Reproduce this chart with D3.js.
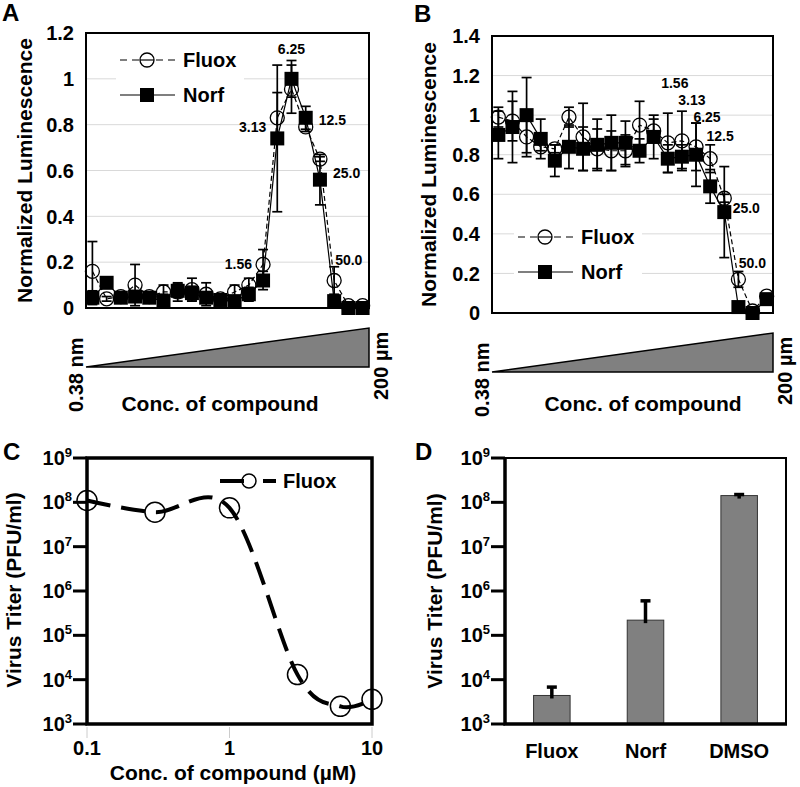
<!DOCTYPE html>
<html>
<head>
<meta charset="utf-8">
<script src="https://cdn.jsdelivr.net/npm/d3@7/dist/d3.min.js"></script>
<style>
  body { margin: 0; background: #fff; }
  svg { display: block; font-family: "Liberation Sans", Arial, sans-serif; font-weight: bold; }
</style>
</head>
<body>
<svg id="chart" width="800" height="787"></svg>
<script>
// Two-fold dilution series (µM), 0.38 nM .. 200 µM
const doses = [0.00038, 0.00076, 0.0015, 0.0031, 0.0061, 0.012, 0.024, 0.049, 0.098, 0.195,
               0.39, 0.78, 1.56, 3.13, 6.25, 12.5, 25, 50, 100, 200];

// Panel A
const fluoxA    = [0.16, 0.04, 0.05, 0.10, 0.05, 0.07, 0.07, 0.08, 0.06, 0.04, 0.07, 0.10, 0.19, 0.83, 0.955, 0.79, 0.65, 0.12, 0.01, 0.01];
const fluoxAErr = [0.13, 0.01, 0.01, 0.09, 0.01, 0.03, 0.04, 0.05, 0.05, 0.02, 0.03, 0.03, 0.065, 0.11, 0.105, 0.02, 0.01, 0.06, 0.005, 0.005];
const norfA     = [0.045, 0.11, 0.045, 0.05, 0.045, 0.03, 0.075, 0.065, 0.045, 0.035, 0.03, 0.06, 0.12, 0.74, 1.0, 0.83, 0.56, 0.03, 0.0, 0.0];
const norfAErr  = [0.03, 0.02, 0.02, 0.02, 0.02, 0.03, 0.03, 0.03, 0.02, 0.02, 0.02, 0.03, 0.04, 0.32, 0.08, 0.05, 0.11, 0.02, 0.0, 0.0];
const ticksA = [0, 0.2, 0.4, 0.6, 0.8, 1, 1.2];

// Panel B
const fluoxB    = [0.99, 0.97, 0.89, 0.84, 0.83, 0.99, 0.89, 0.83, 0.82, 0.82, 0.95, 0.92, 0.86, 0.87, 0.84, 0.78, 0.58, 0.17, 0.01, 0.085];
const fluoxBErr = [0.05, 0.10, 0.10, 0.02, 0.02, 0.05, 0.17, 0.10, 0.10, 0.08, 0.12, 0.06, 0.15, 0.15, 0.12, 0.07, 0.02, 0.04, 0.01, 0.01];
const norfB     = [0.90, 0.94, 1.0, 0.88, 0.77, 0.84, 0.83, 0.85, 0.86, 0.86, 0.82, 0.89, 0.78, 0.79, 0.80, 0.64, 0.51, 0.03, 0.0, 0.07];
const norfBErr  = [0.12, 0.18, 0.19, 0.10, 0.08, 0.11, 0.11, 0.13, 0.14, 0.11, 0.06, 0.11, 0.07, 0.06, 0.16, 0.085, 0.23, 0.02, 0.01, 0.01];
const ticksB = [0, 0.2, 0.4, 0.6, 0.8, 1, 1.2, 1.4];

// Concentration labels written next to the points (µM)
const labelDoses = [1.56, 3.13, 6.25, 12.5, 25, 50];
const labelText  = ["1.56", "3.13", "6.25", "12.5", "25.0", "50.0"];

// Panel C
const concC  = [0.1, 0.3, 1, 3, 6, 10];
const titerC = [1.1e8, 6.0e7, 7.5e7, 1.3e4, 2.5e3, 3.6e3];
const concTicksC = [0.1, 1, 10];

// Panel D
const drugsD    = ["Fluox", "Norf", "DMSO"];
const titerD    = [4.4e3, 2.2e5, 1.42e8];
const titerDErr = [2.4e3, 3.8e5, 0.08e8];

const titerTicks = [1e3, 1e4, 1e5, 1e6, 1e7, 1e8, 1e9];

const svg = d3.select("#chart");
const GRAY = "#808080";

function letter(x, y, t) {
    svg.append("text").attr("x", x).attr("y", y).attr("font-size", 24).text(t);
}

function vTitle(x, y, t, size) {
    svg.append("text")
        .attr("transform", `translate(${x},${y}) rotate(-90)`)
        .attr("text-anchor", "middle")
        .attr("font-size", size)
        .text(t);
}

/**
 * Dose-response panel (A and B)
 */
function dosePanel(p) {
    const g = svg.append("g");
    const x = d3.scalePoint().domain(doses).range([p.x0, p.x1]).padding(0.45);
    const y = d3.scaleLinear().domain([0, p.yMax]).range([p.y1, p.y0]);

    // gridlines
    g.selectAll("line.grid").data(p.ticks.filter(t => t > 0)).enter().append("line")
        .attr("x1", p.x0).attr("x2", p.x1)
        .attr("y1", d => y(d)).attr("y2", d => y(d))
        .attr("stroke", "#d9d9d9").attr("stroke-width", 1);

    // legend background
    g.append("rect").attr("x", p.legX - 4).attr("y", p.legY - 20)
        .attr("width", 128).attr("height", 72).attr("fill", "#fff");

    // tick labels
    g.selectAll("text.tick").data(p.ticks).enter().append("text")
        .attr("x", p.x0 - 12).attr("y", d => y(d)).attr("dy", "0.36em")
        .attr("text-anchor", "end").attr("font-size", 20)
        .text(d => String(+d.toFixed(1)));

    const series = [
        { v: p.fluox, e: p.fluoxErr, dash: "5,3" },
        { v: p.norf, e: p.norfErr, dash: null }
    ];

    series.forEach((s, k) => {
        const line = d3.line().x((d, i) => x(doses[i])).y(d => y(d));
        g.append("path").datum(s.v).attr("d", line)
            .attr("fill", "none").attr("stroke", "#000").attr("stroke-width", 1.2)
            .attr("stroke-dasharray", s.dash);

        const eb = g.append("g").attr("stroke", "#000").attr("stroke-width", 1.7);
        s.v.forEach((v, i) => {
            const cx = x(doses[i]);
            const top = y(v + s.e[i]), bot = y(Math.max(0, v - s.e[i]));
            eb.append("line").attr("x1", cx).attr("x2", cx).attr("y1", top).attr("y2", bot);
            eb.append("line").attr("x1", cx - 5).attr("x2", cx + 5).attr("y1", top).attr("y2", top);
            eb.append("line").attr("x1", cx - 5).attr("x2", cx + 5).attr("y1", bot).attr("y2", bot);
        });

        if (k === 0) {
            g.selectAll(null).data(s.v).enter().append("circle")
                .attr("cx", (d, i) => x(doses[i])).attr("cy", d => y(d)).attr("r", 7)
                .attr("fill", "none").attr("stroke", "#000").attr("stroke-width", 1.3);
        } else {
            g.selectAll(null).data(s.v).enter().append("rect")
                .attr("x", (d, i) => x(doses[i]) - 7).attr("y", d => y(d) - 7)
                .attr("width", 14).attr("height", 14).attr("fill", "#000");
        }
    });

    // concentration labels next to points
    labelDoses.forEach((c, j) => {
        const i = doses.indexOf(c);
        const o = p.labelOffsets[j];
        g.append("text")
            .attr("x", x(c) + o[0]).attr("y", y(p.norf[i]) + o[1]).attr("dy", "0.36em")
            .attr("text-anchor", o[2]).attr("font-size", 14)
            .text(labelText[j]);
    });

    // frame
    g.append("rect").attr("x", p.x0).attr("y", p.y0)
        .attr("width", p.x1 - p.x0).attr("height", p.y1 - p.y0)
        .attr("fill", "none").attr("stroke", "#000").attr("stroke-width", 2);

    // legend
    const lg = g.append("g");
    [["Fluox", "7,5", 0], ["Norf", null, 1]].forEach(([name, dash, k]) => {
        const ly = p.legY + k * 35;
        lg.append("line").attr("x1", p.legX).attr("x2", p.legX + 55)
            .attr("y1", ly).attr("y2", ly)
            .attr("stroke", "#000").attr("stroke-width", 1.2).attr("stroke-dasharray", dash);
        if (k === 0) {
            lg.append("circle").attr("cx", p.legX + 27).attr("cy", ly).attr("r", 7)
                .attr("fill", "#fff").attr("stroke", "#000").attr("stroke-width", 1.3);
            lg.append("line").attr("x1", p.legX + 20).attr("x2", p.legX + 34)
                .attr("y1", ly).attr("y2", ly).attr("stroke", "#000").attr("stroke-width", 1.2);
        } else {
            lg.append("rect").attr("x", p.legX + 20).attr("y", ly - 7)
                .attr("width", 14).attr("height", 14).attr("fill", "#000");
        }
        lg.append("text").attr("x", p.legX + 63).attr("y", ly).attr("dy", "0.36em")
            .attr("font-size", 20).text(name);
    });

    // concentration wedge
    g.append("path")
        .attr("d", `M${p.x0},${p.triB}L${p.x1},${p.triB}L${p.x1},${p.triT}Z`)
        .attr("fill", GRAY).attr("stroke", "#000").attr("stroke-width", 1.5);
    g.append("text")
        .attr("transform", `translate(${p.x0 - 3},${p.triB + 45}) rotate(-90)`)
        .attr("font-size", 20).text("0.38 nm");
    g.append("text")
        .attr("transform", `translate(${p.x1 + 19},${p.triB + 33}) rotate(-90)`)
        .attr("font-size", 20).text("200 µm");
    g.append("text").attr("x", p.titleX).attr("y", 411).attr("text-anchor", "middle")
        .attr("font-size", 21).text("Conc. of compound");

    vTitle(p.yTitleX, (p.y0 + p.y1) / 2, "Normalized Luminescence", 21);
}

dosePanel({
    x0: 86, x1: 369, y0: 33, y1: 308, yMax: 1.2, ticks: ticksA,
    fluox: fluoxA, fluoxErr: fluoxAErr, norf: norfA, norfErr: norfAErr,
    labelOffsets: [[-11, -17, "end"], [-11, -11, "end"], [0, -30, "middle"],
                   [13, 2, "start"], [13, -7, "start"], [1, -41, "start"]],
    legX: 120, legY: 60, triB: 367, triT: 328, titleX: 220, yTitleX: 32
});

dosePanel({
    x0: 492, x1: 773, y0: 36, y1: 313, yMax: 1.4, ticks: ticksB,
    fluox: fluoxB, fluoxErr: fluoxBErr, norf: norfB, norfErr: norfBErr,
    labelOffsets: [[7, -76, "middle"], [10, -57, "middle"], [11, -38, "middle"],
                   [10, -50, "middle"], [22, -4, "middle"], [14, -44, "middle"]],
    legX: 518, legY: 237, triB: 372, triT: 333, titleX: 643, yTitleX: 436
});

letter(2, 21, "A");
letter(414, 22, "B");

/** Log-scale titer axis with 10^n labels */
function titerAxis(g, x0, y) {
    g.selectAll(null).data(titerTicks).enter().append("line")
        .attr("x1", x0 - 14).attr("x2", x0).attr("y1", d => y(d)).attr("y2", d => y(d))
        .attr("stroke", "#000").attr("stroke-width", 3);
    const t = g.selectAll(null).data(titerTicks).enter().append("text")
        .attr("x", x0 - 15).attr("y", d => y(d) + 7)
        .attr("text-anchor", "end").attr("font-size", 20);
    t.append("tspan").text("10");
    t.append("tspan").attr("font-size", 13).attr("dy", -8)
        .text(d => Math.round(Math.log10(d)));
}

// Panel C
(function () {
    const g = svg.append("g");
    const x0 = 87, x1 = 372, y0 = 458, y1 = 724;
    const x = d3.scaleLog().domain([0.1, 10]).range([x0, x1]);
    const y = d3.scaleLog().domain([1e3, 1e9]).range([y1, y0]);

    g.selectAll(null).data(concTicksC).enter().append("line")
        .attr("x1", d => x(d)).attr("x2", d => x(d)).attr("y1", y1 + 3).attr("y2", y1 + 14)
        .attr("stroke", "#ccc").attr("stroke-width", 1);

    titerAxis(g, x0, y);

    g.append("rect").attr("x", x0).attr("y", y0).attr("width", x1 - x0).attr("height", y1 - y0)
        .attr("fill", "none").attr("stroke", "#000").attr("stroke-width", 3.5);

    const line = d3.line().x((d, i) => x(concC[i])).y(d => y(d)).curve(d3.curveCardinal.tension(0));
    g.append("path").datum(titerC).attr("d", line)
        .attr("fill", "none").attr("stroke", "#000").attr("stroke-width", 4)
        .attr("stroke-dasharray", "24,11");
    g.selectAll(null).data(titerC).enter().append("circle")
        .attr("cx", (d, i) => x(concC[i])).attr("cy", d => y(d)).attr("r", 10)
        .attr("fill", "none").attr("stroke", "#000").attr("stroke-width", 1.5);

    g.selectAll(null).data(concTicksC).enter().append("text")
        .attr("x", d => x(d)).attr("y", 755).attr("text-anchor", "middle")
        .attr("font-size", 20).text(d => String(d));
    g.append("text").attr("x", 233).attr("y", 780).attr("text-anchor", "middle")
        .attr("font-size", 21).text("Conc. of compound (µM)");

    // legend: dash, marker, short dash
    g.append("line").attr("x1", 220).attr("x2", 244).attr("y1", 481).attr("y2", 481)
        .attr("stroke", "#000").attr("stroke-width", 4);
    g.append("line").attr("x1", 263).attr("x2", 276).attr("y1", 481).attr("y2", 481)
        .attr("stroke", "#000").attr("stroke-width", 4);
    g.append("circle").attr("cx", 249).attr("cy", 481).attr("r", 7)
        .attr("fill", "none").attr("stroke", "#000").attr("stroke-width", 1.5);
    g.append("text").attr("x", 283).attr("y", 481).attr("dy", "0.36em")
        .attr("font-size", 20).text("Fluox");

    vTitle(21, 590, "Virus Titer (PFU/ml)", 21);
    letter(3, 460, "C");
})();

// Panel D
(function () {
    const g = svg.append("g");
    const x0 = 505, x1 = 786, y0 = 458, y1 = 724;
    const x = d3.scaleBand().domain(drugsD).range([x0, x1]).paddingInner(0.61).paddingOuter(0.305);
    const y = d3.scaleLog().domain([1e3, 1e9]).range([y1, y0]);

    titerAxis(g, x0, y);

    g.selectAll(null).data(titerD).enter().append("rect")
        .attr("x", (d, i) => x(drugsD[i])).attr("y", d => y(d))
        .attr("width", x.bandwidth()).attr("height", d => y1 - y(d))
        .attr("fill", GRAY).attr("stroke", "#333").attr("stroke-width", 1);

    const eb = g.append("g").attr("stroke", "#000").attr("stroke-width", 3.5);
    titerD.forEach((v, i) => {
        const cx = x(drugsD[i]) + x.bandwidth() / 2;
        const top = y(v + titerDErr[i]);
        eb.append("line").attr("x1", cx).attr("x2", cx).attr("y1", y(v) + 3).attr("y2", top);
        eb.append("line").attr("x1", cx - 5).attr("x2", cx + 5).attr("y1", top).attr("y2", top);
    });

    // frame: heavy left/bottom, lighter top/right
    g.append("path").attr("d", `M${x0},${y0}H${x1}V${y1}`)
        .attr("fill", "none").attr("stroke", "#000").attr("stroke-width", 2);
    g.append("path").attr("d", `M${x0},${y0}V${y1}H${x1 + 1}`)
        .attr("fill", "none").attr("stroke", "#000").attr("stroke-width", 3.5);

    g.selectAll(null).data(drugsD).enter().append("text")
        .attr("x", d => x(d) + x.bandwidth() / 2).attr("y", 758).attr("text-anchor", "middle")
        .attr("font-size", 20).text(d => d);

    vTitle(442, 591, "Virus Titer (PFU/ml)", 21);
    letter(415, 460, "D");
})();
</script>
</body>
</html>
